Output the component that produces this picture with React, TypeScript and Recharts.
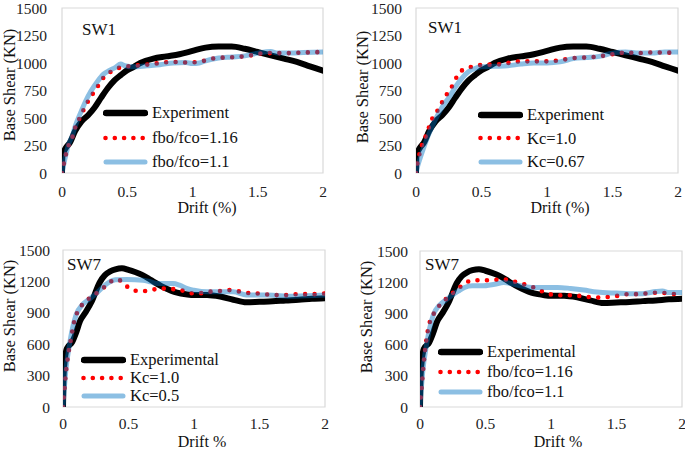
import React from 'react'
import { LineChart, Line, XAxis, YAxis, Legend, ReferenceArea } from 'recharts'

const FONT = "'Liberation Serif', 'Times New Roman', serif"

// axis ticks
const xTicks = [0, 0.5, 1, 1.5, 2]
const sw1YTicks = [0, 250, 500, 750, 1000, 1250, 1500]
const sw7YTicks = [0, 300, 600, 900, 1200, 1500]

// SW1 - experiment
const sw1ExpDrift = [0, 0.003, 0.01, 0.03, 0.06, 0.1, 0.15, 0.2, 0.25, 0.3, 0.35, 0.4, 0.45, 0.5, 0.55, 0.6, 0.7, 0.8, 0.9, 1.0, 1.1, 1.2, 1.3, 1.4, 1.5, 1.6, 1.7, 1.8, 1.9, 2.0]
const sw1ExpShear = [0, 150, 180, 230, 275, 380, 470, 525, 595, 685, 770, 840, 890, 935, 965, 1000, 1040, 1060, 1080, 1110, 1140, 1150, 1150, 1130, 1100, 1070, 1040, 1010, 970, 930]

// SW1 - fbo/fco = 1.16
const sw1Fbo116Drift = [0, 0.01, 0.03, 0.05, 0.08, 0.1, 0.14, 0.18, 0.22, 0.27, 0.32, 0.38, 0.45, 0.55, 0.65, 0.75, 0.85, 0.95, 1.05, 1.15, 1.25, 1.35, 1.45, 1.55, 1.65, 1.75, 1.85, 2.0]
const sw1Fbo116Shear = [0, 60, 170, 250, 330, 410, 510, 610, 690, 780, 870, 925, 960, 975, 985, 1000, 1010, 1005, 1010, 1040, 1050, 1055, 1070, 1090, 1090, 1090, 1095, 1100]

// SW1 - fbo/fco = 1.1
const sw1Fbo11Drift = [0, 0.01, 0.03, 0.05, 0.08, 0.1, 0.14, 0.18, 0.22, 0.27, 0.32, 0.36, 0.41, 0.45, 0.48, 0.55, 0.65, 0.75, 0.85, 0.95, 1.0, 1.05, 1.1, 1.2, 1.3, 1.4, 1.5, 1.6, 1.65, 1.75, 1.85, 2.0]
const sw1Fbo11Shear = [0, 60, 170, 260, 340, 420, 540, 650, 740, 830, 900, 930, 960, 990, 975, 965, 975, 985, 1000, 1005, 995, 1000, 1020, 1045, 1055, 1065, 1090, 1105, 1090, 1090, 1095, 1100]

// SW1 - Kc = 1.0
const sw1Kc10Drift = [0, 0.01, 0.03, 0.05, 0.08, 0.1, 0.13, 0.18, 0.21, 0.25, 0.29, 0.32, 0.38, 0.45, 0.52, 0.6, 0.7, 0.8, 0.9, 1.0, 1.1, 1.2, 1.3, 1.4, 1.5, 1.6, 1.7, 1.8, 1.9, 2.0]
const sw1Kc10Shear = [0, 80, 190, 270, 350, 420, 510, 595, 670, 740, 820, 895, 950, 970, 985, 985, 1000, 1015, 1015, 1015, 1025, 1045, 1050, 1060, 1080, 1095, 1090, 1095, 1095, 1090]

// SW1 - Kc = 0.67
const sw1Kc067Drift = [0, 0.01, 0.03, 0.05, 0.1, 0.15, 0.2, 0.26, 0.3, 0.35, 0.4, 0.45, 0.5, 0.6, 0.7, 0.8, 0.9, 1.0, 1.1, 1.2, 1.3, 1.4, 1.5, 1.6, 1.7, 1.8, 1.9, 2.0]
const sw1Kc067Shear = [0, 50, 130, 200, 360, 490, 600, 700, 780, 860, 920, 950, 965, 970, 975, 990, 1000, 1000, 1010, 1040, 1050, 1060, 1090, 1100, 1090, 1090, 1100, 1100]

// SW7 - experimental
const sw7ExpDrift = [0, 0.003, 0.01, 0.03, 0.07, 0.1, 0.13, 0.17, 0.22, 0.28, 0.32, 0.36, 0.4, 0.45, 0.5, 0.55, 0.6, 0.65, 0.7, 0.75, 0.8, 0.85, 0.9, 0.95, 1.0, 1.1, 1.2, 1.3, 1.4, 1.5, 1.6, 1.7, 1.8, 1.9, 2.0]
const sw7ExpShear = [0, 250, 400, 560, 620, 710, 820, 900, 1010, 1190, 1260, 1295, 1315, 1325, 1310, 1290, 1265, 1230, 1190, 1155, 1125, 1100, 1085, 1075, 1070, 1070, 1055, 1025, 1000, 1005, 1010, 1018, 1025, 1035, 1040]

// SW7 - Kc = 1.0
const sw7Kc10Drift = [0, 0.01, 0.02, 0.04, 0.06, 0.09, 0.12, 0.16, 0.22, 0.28, 0.33, 0.4, 0.45, 0.51, 0.58, 0.66, 0.73, 0.81, 0.88, 0.96, 1.03, 1.11, 1.19, 1.26, 1.33, 1.4, 1.48, 1.56, 1.63, 1.7, 1.78, 1.86, 1.93, 2.0]
const sw7Kc10Shear = [0, 150, 300, 500, 650, 840, 930, 995, 1055, 1110, 1160, 1220, 1200, 1130, 1108, 1110, 1134, 1127, 1124, 1090, 1085, 1100, 1107, 1117, 1107, 1091, 1085, 1075, 1069, 1069, 1078, 1078, 1078, 1085]

// SW7 - Kc = 0.5
const sw7Kc05Drift = [0, 0.01, 0.02, 0.05, 0.1, 0.15, 0.2, 0.25, 0.3, 0.35, 0.4, 0.49, 0.61, 0.67, 0.72, 0.78, 0.84, 0.89, 0.95, 1.0, 1.1, 1.3, 1.4, 1.56, 1.76, 2.0]
const sw7Kc05Shear = [0, 180, 330, 600, 880, 980, 1030, 1080, 1140, 1190, 1215, 1219, 1212, 1195, 1180, 1180, 1180, 1164, 1130, 1115, 1100, 1100, 1070, 1069, 1059, 1069]

// SW7 - fbo/fco = 1.16
const sw7Fbo116Drift = [0, 0.01, 0.02, 0.04, 0.08, 0.12, 0.16, 0.21, 0.27, 0.33, 0.4, 0.47, 0.55, 0.62, 0.7, 0.77, 0.84, 0.91, 0.99, 1.07, 1.14, 1.21, 1.28, 1.36, 1.44, 1.51, 1.59, 1.67, 1.74, 1.82, 1.88, 1.96, 2.0]
const sw7Fbo116Shear = [0, 150, 300, 560, 840, 920, 996, 1050, 1117, 1175, 1219, 1219, 1219, 1229, 1213, 1187, 1165, 1124, 1085, 1075, 1075, 1069, 1059, 1053, 1059, 1069, 1085, 1085, 1094, 1100, 1094, 1085, 1085]

// SW7 - fbo/fco = 1.1
const sw7Fbo11Drift = [0, 0.01, 0.02, 0.05, 0.1, 0.15, 0.2, 0.25, 0.3, 0.34, 0.4, 0.47, 0.57, 0.64, 0.7, 0.75, 0.85, 0.95, 1.05, 1.15, 1.25, 1.35, 1.5, 1.6, 1.7, 1.8, 1.85, 1.9, 2.0]
const sw7Fbo11Shear = [0, 180, 330, 600, 880, 980, 1030, 1080, 1120, 1149, 1165, 1165, 1181, 1197, 1185, 1170, 1150, 1150, 1150, 1140, 1125, 1105, 1095, 1090, 1090, 1110, 1115, 1100, 1100]

type Kind = 'exp' | 'dot' | 'blue'
type Series = { name: string; kind: Kind; data: { x: number; y: number }[] }

const zip = (xs: number[], ys: number[]) => xs.map((x, i) => ({ x, y: ys[i] }))

const lineStyle: Record<Kind, any> = {
  exp: { stroke: '#000', strokeWidth: 6, strokeLinecap: 'round', strokeLinejoin: 'round' },
  dot: { stroke: '#ff0000', strokeWidth: 4.6, strokeDasharray: '0 9.5', strokeLinecap: 'round' },
  blue: { stroke: '#0070c0', strokeOpacity: 0.45, strokeWidth: 5, strokeLinejoin: 'round' },
}

function Swatch({ kind }: { kind: Kind }) {
  return (
    <svg width={45} height={10} style={{ display: 'block', flex: 'none' }}>
      {kind === 'exp' && <line x1={3} y1={5} x2={42} y2={5} stroke="#000" strokeWidth={6.5} strokeLinecap="round" />}
      {kind === 'dot' && <line x1={2.5} y1={5} x2={42} y2={5} stroke="#ff0000" strokeWidth={4.6} strokeDasharray="0 9.3" strokeLinecap="round" />}
      {kind === 'blue' && <line x1={3} y1={5} x2={42} y2={5} stroke="#0070c0" strokeOpacity={0.45} strokeWidth={5} strokeLinecap="round" />}
    </svg>
  )
}

function LegendBox({ series, rowH }: { series: Series[]; rowH: number }) {
  return (
    <div style={{ fontFamily: FONT, fontSize: 16.5, color: '#111', lineHeight: `${rowH}px` }}>
      {series.map(s => (
        <div key={s.name} style={{ display: 'flex', alignItems: 'center', height: rowH, whiteSpace: 'nowrap' }}>
          <Swatch kind={s.kind} />
          <span style={{ marginLeft: 4 }}>{s.name}</span>
        </div>
      ))}
    </div>
  )
}

type Panel = {
  left: number; top: number; width: number; height: number
  margin: { top: number; right: number; bottom: number; left: number }
  yTicks: number[]; yMargin: number; xMargin: number
  series: Series[]
  legendLeft: number; legendTop: number; rowH: number
}

const panels: Panel[] = [
  {
    left: 0, top: 0, width: 345, height: 225,
    margin: { top: 8, right: 22, bottom: 22, left: 12 },
    yTicks: sw1YTicks, yMargin: 15, xMargin: 13,
    series: [
      { name: 'Experiment', kind: 'exp', data: zip(sw1ExpDrift, sw1ExpShear) },
      { name: 'fbo/fco=1.16', kind: 'dot', data: zip(sw1Fbo116Drift, sw1Fbo116Shear) },
      { name: 'fbo/fco=1.1', kind: 'blue', data: zip(sw1Fbo11Drift, sw1Fbo11Shear) },
    ],
    legendLeft: 103, legendTop: 101, rowH: 24.5,
  },
  {
    left: 345, top: 0, width: 340, height: 225,
    margin: { top: 8, right: 7, bottom: 22, left: 21 },
    yTicks: sw1YTicks, yMargin: 14, xMargin: 13,
    series: [
      { name: 'Experiment', kind: 'exp', data: zip(sw1ExpDrift, sw1ExpShear) },
      { name: 'Kc=1.0', kind: 'dot', data: zip(sw1Kc10Drift, sw1Kc10Shear) },
      { name: 'Kc=0.67', kind: 'blue', data: zip(sw1Kc067Drift, sw1Kc067Shear) },
    ],
    legendLeft: 133, legendTop: 103, rowH: 23.5,
  },
  {
    left: 0, top: 225, width: 345, height: 226,
    margin: { top: 25, right: 20, bottom: 14, left: 13 },
    yTicks: sw7YTicks, yMargin: 13, xMargin: 11,
    series: [
      { name: 'Experimental', kind: 'exp', data: zip(sw7ExpDrift, sw7ExpShear) },
      { name: 'Kc=1.0', kind: 'dot', data: zip(sw7Kc10Drift, sw7Kc10Shear) },
      { name: 'Kc=0.5', kind: 'blue', data: zip(sw7Kc05Drift, sw7Kc05Shear) },
    ],
    legendLeft: 81, legendTop: 126, rowH: 18,
  },
  {
    left: 345, top: 225, width: 340, height: 226,
    margin: { top: 26, right: 3, bottom: 14, left: 25 },
    yTicks: sw7YTicks, yMargin: 12, xMargin: 11,
    series: [
      { name: 'Experimental', kind: 'exp', data: zip(sw7ExpDrift, sw7ExpShear) },
      { name: 'fbo/fco=1.16', kind: 'dot', data: zip(sw7Fbo116Drift, sw7Fbo116Shear) },
      { name: 'fbo/fco=1.1', kind: 'blue', data: zip(sw7Fbo11Drift, sw7Fbo11Shear) },
    ],
    legendLeft: 93, legendTop: 117, rowH: 20,
  },
]

// panel names and axis titles
const titles = [
  { text: 'SW1', x: 82, y: 35, size: 17, anchor: 'start', rot: false },
  { text: 'SW1', x: 428, y: 33, size: 17, anchor: 'start', rot: false },
  { text: 'SW7', x: 67, y: 270, size: 17, anchor: 'start', rot: false },
  { text: 'SW7', x: 425, y: 270, size: 17, anchor: 'start', rot: false },
  { text: 'Drift (%)', x: 207, y: 213, size: 16, anchor: 'middle', rot: false },
  { text: 'Drift (%)', x: 560, y: 213, size: 16, anchor: 'middle', rot: false },
  { text: 'Drift %', x: 202, y: 447, size: 16, anchor: 'middle', rot: false },
  { text: 'Drift %', x: 558, y: 447, size: 16, anchor: 'middle', rot: false },
  { text: 'Base Shear (KN)', x: 15, y: 85, size: 16.5, anchor: 'middle', rot: true },
  { text: 'Base Shear (KN)', x: 368, y: 87, size: 16.5, anchor: 'middle', rot: true },
  { text: 'Base Shear (KN)', x: 15, y: 316, size: 16.5, anchor: 'middle', rot: true },
  { text: 'Base Shear (KN)', x: 372, y: 317, size: 16.5, anchor: 'middle', rot: true },
]

function PanelChart({ p }: { p: Panel }) {
  const tick = { fontSize: 15.5, fill: '#222', fontFamily: FONT }
  return (
    <div style={{ position: 'absolute', left: p.left, top: p.top }}>
      <LineChart width={p.width} height={p.height} margin={p.margin}>
        <XAxis
          type="number" dataKey="x" domain={[0, 2]} ticks={xTicks} interval={0}
          axisLine={false} tickLine={false} tickSize={0} tickMargin={p.xMargin}
          height={30} tick={tick} allowDataOverflow
        />
        <YAxis
          type="number" domain={[0, 1500]} ticks={p.yTicks} interval={0}
          axisLine={false} tickLine={false} tickSize={0} tickMargin={p.yMargin}
          width={50} tick={tick} allowDataOverflow
        />
        <ReferenceArea x1={0} x2={2} y1={0} y2={1500} fill="none" stroke="#d9d9d9" strokeWidth={1.2} />
        {p.series.map(s => (
          <Line
            key={s.name} data={s.data} dataKey="y" name={s.name} type="monotone"
            dot={false} activeDot={false} isAnimationActive={false}
            {...lineStyle[s.kind]}
          />
        ))}
        <Legend
          layout="vertical" align="center" verticalAlign="middle"
          wrapperStyle={{ left: p.legendLeft, top: p.legendTop, width: 'auto', height: 'auto' }}
          content={() => <LegendBox series={p.series} rowH={p.rowH} />}
        />
      </LineChart>
    </div>
  )
}

export default function App() {
  return (
    <div style={{ position: 'absolute', left: 0, top: 0, width: 685, height: 451, background: '#fff', overflow: 'hidden' }}>
      {panels.map((p, i) => <PanelChart key={i} p={p} />)}
      <svg width={685} height={451} style={{ position: 'absolute', left: 0, top: 0, pointerEvents: 'none' }}>
        {titles.map((t, i) => (
          <text
            key={i} x={t.x} y={t.y} fontSize={t.size} fontFamily={FONT} fill="#111"
            textAnchor={t.anchor as any}
            transform={t.rot ? `rotate(-90 ${t.x} ${t.y})` : undefined}
          >
            {t.text}
          </text>
        ))}
      </svg>
    </div>
  )
}
